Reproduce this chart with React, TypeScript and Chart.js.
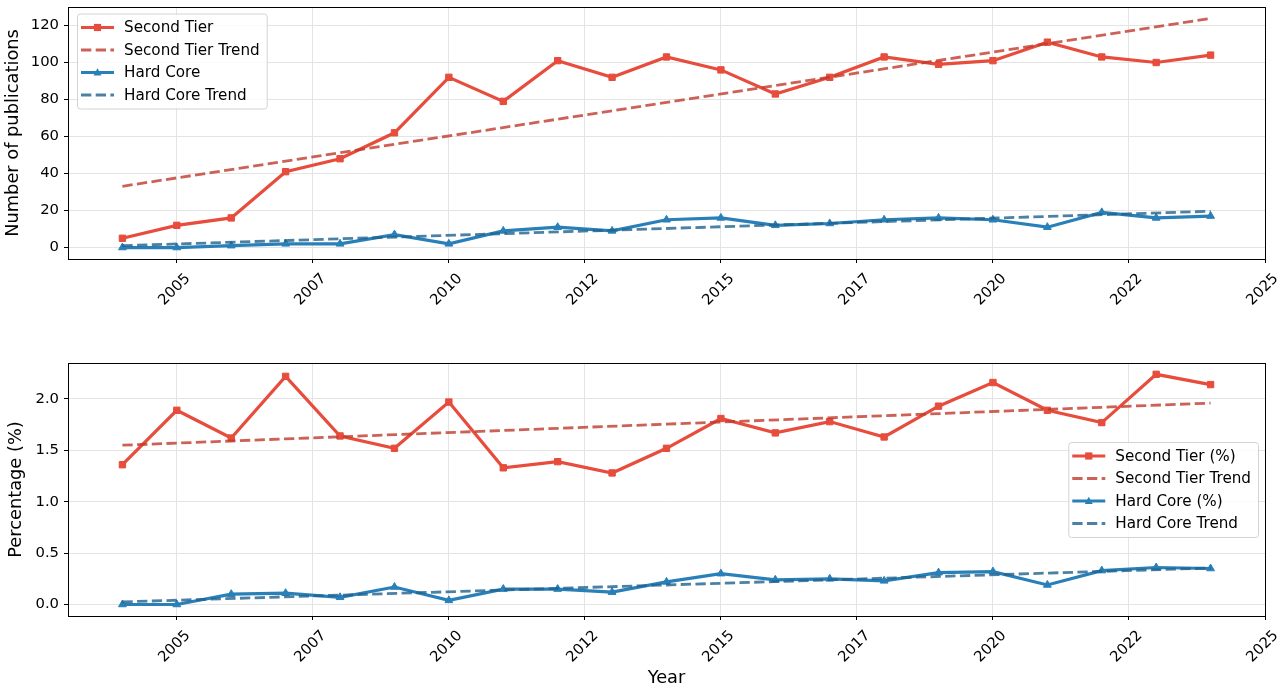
import React, { useEffect, useRef } from 'react';
import { Chart, registerables } from 'chart.js';

Chart.register(...registerables);

const years = [2004, 2005, 2006, 2007, 2008, 2009, 2010, 2011, 2012, 2013, 2014, 2015, 2016, 2017, 2018, 2019, 2020, 2021, 2022, 2023, 2024];
const secondTier = [5, 12, 16, 41, 48, 62, 92, 79, 101, 92, 103, 96, 83, 92, 103, 99, 101, 111, 103, 100, 104];
const hardCore = [0, 0, 1, 2, 2, 7, 2, 9, 11, 9, 15, 16, 12, 13, 15, 16, 15, 11, 19, 16, 17];
const secondTierTrend = [33.1, 123.8];
const hardCoreTrend = [1.0, 19.6];

const secondTierPct = [1.36, 1.89, 1.62, 2.22, 1.64, 1.52, 1.97, 1.33, 1.39, 1.28, 1.52, 1.81, 1.67, 1.78, 1.63, 1.93, 2.16, 1.89, 1.77, 2.24, 2.14];
const hardCorePct = [0.0, 0.0, 0.1, 0.11, 0.07, 0.17, 0.04, 0.15, 0.15, 0.12, 0.22, 0.3, 0.24, 0.25, 0.23, 0.31, 0.32, 0.19, 0.33, 0.36, 0.35];
const secondTierPctTrend = [1.55, 1.96];
const hardCorePctTrend = [0.025, 0.355];

const xTickValues = [2005, 2007.5, 2010, 2012.5, 2015, 2017.5, 2020, 2022.5, 2025];
const xTickLabels = ['2005', '2007', '2010', '2012', '2015', '2017', '2020', '2022', '2025'];
const countTickValues = [0, 20, 40, 60, 80, 100, 120];
const countTickLabels = ['0', '20', '40', '60', '80', '100', '120'];
const pctTickValues = [0, 0.5, 1, 1.5, 2];
const pctTickLabels = ['0.0', '0.5', '1.0', '1.5', '2.0'];

const FONT = '"DejaVu Sans", "Liberation Sans", sans-serif';
const TICK_SIZE = 14.8;
const LEGEND_SIZE = 15.2;
const TITLE_SIZE = 17.8;
const RED = '#e74c3c';
const RED_TREND = 'rgba(192,57,43,0.8)';
const BLUE = '#2980b9';
const BLUE_TREND = 'rgba(31,97,141,0.8)';

const mainLine = (label: string, ys: number[], color: string, marker: string, order: number) => ({
  label,
  data: years.map((x, i) => ({ x, y: ys[i] })),
  borderColor: color,
  backgroundColor: color,
  borderWidth: 3.2,
  pointStyle: marker,
  pointRadius: 4.5,
  pointBorderWidth: 1,
  pointBorderColor: color,
  pointBackgroundColor: color,
  tension: 0,
  fill: false,
  order,
});

const trendLine = (label: string, ends: number[], color: string, order: number) => ({
  label,
  data: [
    { x: years[0], y: ends[0] },
    { x: years[years.length - 1], y: ends[1] },
  ],
  borderColor: color,
  backgroundColor: color,
  borderWidth: 2.8,
  borderDash: [10.3, 4.4],
  pointRadius: 0,
  tension: 0,
  fill: false,
  order,
});

function drawMarker(ctx: CanvasRenderingContext2D, style: string, x: number, y: number, color: string) {
  ctx.save();
  ctx.fillStyle = color;
  ctx.setLineDash([]);
  ctx.beginPath();
  if (style === 'rect') {
    ctx.rect(x - 3.6, y - 3.6, 7.2, 7.2);
  } else if (style === 'triangle') {
    ctx.moveTo(x, y - 4.2);
    ctx.lineTo(x + 4, y + 3);
    ctx.lineTo(x - 4, y + 3);
    ctx.closePath();
  }
  ctx.fill();
  ctx.restore();
}

const frameAndLegendPlugin = {
  id: 'mplFrame',
  afterDatasetsDraw(chart: any) {
    const { ctx, chartArea } = chart;
    ctx.save();
    ctx.strokeStyle = '#000';
    ctx.lineWidth = 1;
    ctx.setLineDash([]);
    const l = Math.round(chartArea.left) + 0.5;
    const t = Math.round(chartArea.top) + 0.5;
    const r = Math.round(chartArea.right) + 0.5;
    const b = Math.round(chartArea.bottom) + 0.5;
    ctx.strokeRect(l, t, r - l, b - t);
    ctx.restore();
  },
  afterDraw(chart: any, _args: any, opts: any) {
    const { ctx, chartArea } = chart;
    const datasets = chart.data.datasets;
    ctx.save();
    ctx.font = `${LEGEND_SIZE}px ${FONT}`;
    const textW = Math.max(...datasets.map((d: any) => ctx.measureText(d.label).width));
    const w = 47 + textW + 7;
    const h = 95;
    let x: number, y: number;
    if (opts.loc === 'upper left') {
      x = chartArea.left + 9;
      y = chartArea.top + 6.5;
    } else {
      x = chartArea.right - 7 - w;
      y = (chartArea.top + chartArea.bottom) / 2 - h / 2;
    }
    ctx.beginPath();
    if ((ctx as any).roundRect) {
      (ctx as any).roundRect(x + 0.5, y + 0.5, w, h, 3);
    } else {
      ctx.rect(x + 0.5, y + 0.5, w, h);
    }
    ctx.fillStyle = 'rgba(255,255,255,0.8)';
    ctx.fill();
    ctx.strokeStyle = '#d3d3d3';
    ctx.lineWidth = 1;
    ctx.stroke();
    datasets.forEach((d: any, i: number) => {
      const cy = y + 14 + i * 22.5;
      ctx.save();
      ctx.strokeStyle = d.borderColor;
      ctx.lineWidth = d.borderWidth;
      ctx.setLineDash(d.borderDash || []);
      ctx.beginPath();
      ctx.moveTo(x + 4, cy);
      ctx.lineTo(x + 37, cy);
      ctx.stroke();
      ctx.restore();
      if (d.pointRadius > 0) drawMarker(ctx, d.pointStyle, x + 20.5, cy, d.borderColor);
      ctx.fillStyle = '#000';
      ctx.textBaseline = 'middle';
      ctx.textAlign = 'left';
      ctx.fillText(d.label, x + 47, cy + 1);
    });
    ctx.restore();
  },
};

function makeConfig(opts: {
  datasets: any[];
  yMin: number;
  yMax: number;
  yTicks: number[];
  yLabels: string[];
  yTitle: string;
  yTitlePad: number;
  xTitle: string | null;
  padTop: number;
  xAxisHeight: number;
  legendLoc: string;
}) {
  return {
    type: 'line',
    data: { datasets: opts.datasets },
    options: {
      animation: false,
      responsive: false,
      maintainAspectRatio: false,
      layout: { padding: { top: opts.padTop, right: 22, left: 0, bottom: 0 } },
      plugins: {
        legend: { display: false },
        tooltip: { enabled: false },
        mplFrame: { loc: opts.legendLoc },
      },
      scales: {
        x: {
          type: 'linear',
          min: 2003,
          max: 2025,
          afterBuildTicks: (s: any) => {
            s.ticks = xTickValues.map((value) => ({ value }));
          },
          afterFit: (s: any) => {
            s.height = opts.xAxisHeight;
            s.paddingLeft = 0;
            s.paddingRight = 0;
            s.paddingTop = 0;
            s.paddingBottom = 0;
          },
          ticks: {
            autoSkip: false,
            minRotation: 45,
            maxRotation: 45,
            padding: 7,
            labelOffset: 11,
            color: '#000',
            font: { family: FONT, size: TICK_SIZE },
            callback: (_v: any, i: number) => xTickLabels[i],
          },
          grid: {
            color: '#e4e4e4',
            lineWidth: 1,
            drawTicks: true,
            tickLength: 4,
            tickColor: '#000',
            tickWidth: 1,
          },
          border: { display: false },
          title: {
            display: !!opts.xTitle,
            text: opts.xTitle || '',
            color: '#000',
            font: { family: FONT, size: TITLE_SIZE },
            padding: { top: 0, bottom: 0 },
          },
        },
        y: {
          type: 'linear',
          min: opts.yMin,
          max: opts.yMax,
          afterBuildTicks: (s: any) => {
            s.ticks = opts.yTicks.map((value) => ({ value }));
          },
          afterFit: (s: any) => {
            s.width = 68;
            s.paddingLeft = 0;
            s.paddingRight = 0;
            s.paddingTop = 0;
            s.paddingBottom = 0;
          },
          ticks: {
            autoSkip: false,
            padding: 5,
            color: '#000',
            font: { family: FONT, size: TICK_SIZE },
            callback: (_v: any, i: number) => opts.yLabels[i],
          },
          grid: {
            color: '#e4e4e4',
            lineWidth: 1,
            drawTicks: true,
            tickLength: 4,
            tickColor: '#000',
            tickWidth: 1,
          },
          border: { display: false },
          title: {
            display: true,
            text: opts.yTitle,
            color: '#000',
            font: { family: FONT, size: TITLE_SIZE },
            padding: { top: opts.yTitlePad, bottom: 0 },
          },
        },
      },
    },
    plugins: [frameAndLegendPlugin],
  } as any;
}

export default function App() {
  const topRef = useRef<HTMLCanvasElement>(null);
  const botRef = useRef<HTMLCanvasElement>(null);

  useEffect(() => {
    const topCfg = makeConfig({
      datasets: [
        mainLine('Second Tier', secondTier, RED, 'rect', 4),
        trendLine('Second Tier Trend', secondTierTrend, RED_TREND, 3),
        mainLine('Hard Core', hardCore, BLUE, 'triangle', 2),
        trendLine('Hard Core Trend', hardCoreTrend, BLUE_TREND, 1),
      ],
      yMin: -6.2,
      yMax: 130,
      yTicks: countTickValues,
      yLabels: countTickLabels,
      yTitle: 'Number of publications',
      yTitlePad: 3,
      xTitle: null,
      padTop: 7,
      xAxisHeight: 320 - 259,
      legendLoc: 'upper left',
    });
    const botCfg = makeConfig({
      datasets: [
        mainLine('Second Tier (%)', secondTierPct, RED, 'rect', 4),
        trendLine('Second Tier Trend', secondTierPctTrend, RED_TREND, 3),
        mainLine('Hard Core (%)', hardCorePct, BLUE, 'triangle', 2),
        trendLine('Hard Core Trend', hardCorePctTrend, BLUE_TREND, 1),
      ],
      yMin: -0.112,
      yMax: 2.35,
      yTicks: pctTickValues,
      yLabels: pctTickLabels,
      yTitle: 'Percentage (%)',
      yTitlePad: 6,
      xTitle: 'Year',
      padTop: 363 - 320,
      xAxisHeight: 369 - (616 - 320),
      legendLoc: 'center right',
    });
    const c1 = new Chart(topRef.current as HTMLCanvasElement, topCfg);
    const c2 = new Chart(botRef.current as HTMLCanvasElement, botCfg);
    return () => {
      c1.destroy();
      c2.destroy();
    };
  }, []);

  return (
    <div style={{ position: 'absolute', left: 0, top: 0, width: 1287, height: 689, background: '#fff' }}>
      <canvas ref={topRef} width={1287} height={320} style={{ position: 'absolute', left: 0, top: 0 }} />
      <canvas ref={botRef} width={1287} height={369} style={{ position: 'absolute', left: 0, top: 320 }} />
    </div>
  );
}
